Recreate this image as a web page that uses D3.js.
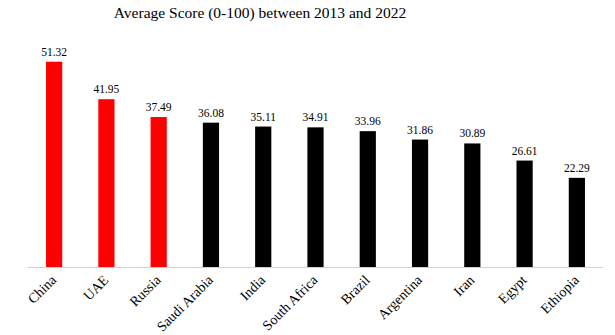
<!DOCTYPE html>
<html>
<head>
<meta charset="utf-8">
<script src="https://cdn.jsdelivr.net/npm/d3@7"></script>
<style>
  html, body { margin: 0; padding: 0; background: #fff; }
  svg { display: block; }
</style>
</head>
<body>
<svg id="chart" width="615" height="335"></svg>
<script>
const categories = ["China", "UAE", "Russia", "Saudi Arabia", "India", "South Africa", "Brazil", "Argentina", "Iran", "Egypt", "Ethiopia"];
const values = [51.32, 41.95, 37.49, 36.08, 35.11, 34.91, 33.96, 31.86, 30.89, 26.61, 22.29];
const highlighted = ["China", "UAE", "Russia"];
const titleText = "Average Score (0-100) between 2013 and 2022";

const svg = d3.select("#chart");
const margin = { left: 28, right: 12, top: 27, bottom: 68 };
const W = 615, H = 335;

const x = d3.scaleBand().domain(categories).range([margin.left, W - margin.right]).paddingInner(0.69).paddingOuter(0.345);
const y = d3.scaleLinear().domain([0, 60]).range([267, 27]);

svg.append("text")
  .attr("x", 260).attr("y", 18)
  .attr("text-anchor", "middle")
  .style("font-family", "'Liberation Serif', serif")
  .style("font-size", "15.5px")
  .attr("fill", "#000")
  .text(titleText);

const data = categories.map((c, i) => ({ c, v: values[i] }));

svg.selectAll("rect.bar").data(data).join("rect")
  .attr("class", "bar")
  .attr("x", d => x(d.c))
  .attr("width", x.bandwidth())
  .attr("y", d => y(d.v))
  .attr("height", d => y(0) - y(d.v))
  .attr("fill", d => highlighted.includes(d.c) ? "#ff0000" : "#000000");

svg.selectAll("text.val").data(data).join("text")
  .attr("class", "val")
  .attr("x", d => x(d.c) + x.bandwidth() / 2)
  .attr("y", d => y(d.v) - 6)
  .attr("text-anchor", "middle")
  .style("font-family", "'Liberation Serif', serif")
  .style("font-size", "11.5px")
  .attr("fill", "#000")
  .text(d => d.v.toFixed(2));

// axis
const axis = d3.axisBottom(x).tickSize(0).tickPadding(0);
const gx = svg.append("g").attr("transform", `translate(0,${y(0)})`).call(axis);
gx.select(".domain").attr("stroke", "#d0d0d0").attr("stroke-width", 1)
  .attr("d", `M${margin.left},0.5H${W - margin.right}`);
gx.selectAll(".tick text")
  .attr("text-anchor", "end")
  .attr("dy", "0.7em")
  .attr("y", 0)
  .attr("transform", "translate(-4,7) rotate(-45)")
  .style("font-family", "'Liberation Serif', serif")
  .style("font-size", "14px")
  .attr("fill", "#000");
</script>
</body>
</html>
